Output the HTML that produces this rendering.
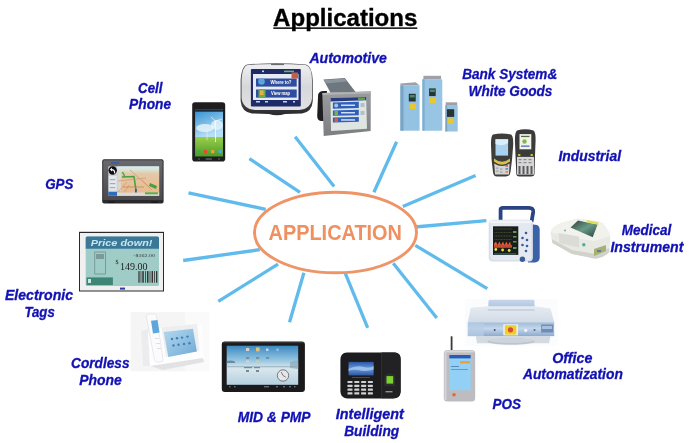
<!DOCTYPE html>
<html><head><meta charset="utf-8">
<style>
html,body{margin:0;padding:0;background:#fff;width:689px;height:443px;overflow:hidden}
svg{display:block;will-change:transform}
text{font-family:"Liberation Sans",sans-serif}
.lb{font-weight:bold;font-style:italic;font-size:13.8px;fill:#1212b4;stroke:#1212b4;stroke-width:0.3px}
</style></head><body>
<svg width="689" height="443" viewBox="0 0 689 443">
<!-- title -->
<text x="273.1" y="25.8" font-size="23.2" font-weight="bold" fill="#000" stroke="#000" stroke-width="0.35" textLength="144.2" lengthAdjust="spacingAndGlyphs">Applications</text>
<rect x="273.3" y="27.4" width="144" height="1.45" fill="#000"/>
<!-- rays -->
<g stroke="#60bbec" stroke-width="3.3" stroke-linecap="butt">
<line x1="188.5" y1="192.8" x2="265.7" y2="209.3"/>
<line x1="249.4" y1="158.7" x2="300" y2="192.3"/>
<line x1="295.1" y1="136.8" x2="334.1" y2="186.6"/>
<line x1="396.6" y1="141.7" x2="373.9" y2="192.3"/>
<line x1="475.6" y1="175.5" x2="402.8" y2="206.4"/>
<line x1="486.4" y1="220.7" x2="414.7" y2="227"/>
<line x1="415.3" y1="245.3" x2="487.3" y2="288.6"/>
<line x1="393.2" y1="263.3" x2="436.8" y2="318"/>
<line x1="183.2" y1="260.5" x2="259.8" y2="249.7"/>
<line x1="218.3" y1="301.4" x2="278" y2="264.1"/>
<line x1="289.5" y1="322.2" x2="303.9" y2="272.7"/>
<line x1="367.7" y1="327.9" x2="345.4" y2="273.6"/>
</g>
<ellipse cx="335.5" cy="232.5" rx="81" ry="40.3" fill="#fff" stroke="#ef9466" stroke-width="3"/>
<text x="268.5" y="240.2" font-size="21.5" fill="#ef9060" font-weight="bold" textLength="133.5" lengthAdjust="spacingAndGlyphs">APPLICATION</text>

<!-- ===== Garmin GPS (automotive left) ===== -->
<g id="garmin">
<defs>
<linearGradient id="gSilver" x1="0" y1="0" x2="0" y2="1">
<stop offset="0" stop-color="#f0f0f2"/><stop offset="0.5" stop-color="#d6d7da"/><stop offset="1" stop-color="#e2e2e4"/></linearGradient>
<linearGradient id="gRim" x1="0" y1="0" x2="0" y2="1">
<stop offset="0" stop-color="#5a5a5e"/><stop offset="0.7" stop-color="#45454a"/><stop offset="1" stop-color="#2a2a2e"/></linearGradient>
</defs>
<path d="M247 64.5 Q276 62 306 64.5 Q312 66 312.8 80 L312.8 101 Q312 112 302 113.5 L285 114 Q277 116.5 269 114 L252 113.5 Q241.5 112 240.6 101 L240.6 80 Q241.5 66 247 64.5 Z" fill="url(#gRim)"/>
<path d="M247.5 65 Q276 63 305.5 65 Q311.8 66.5 312 80 L312 98 Q311.2 109 299 110 L255 110 Q242.8 109 241.6 98 L241.6 80 Q242.2 66.5 247.5 65 Z" fill="url(#gSilver)"/>
<rect x="271" y="63.8" width="13" height="1.3" fill="#6a6a70"/>
<rect x="250.9" y="69" width="49.9" height="37.4" rx="0.8" fill="#1f2b66"/>
<rect x="253" y="74" width="45.5" height="26" fill="#e6eaf3"/>
<rect x="262" y="70.5" width="2" height="1.6" fill="#c8d0f0"/>
<rect x="284" y="70.6" width="10" height="1.6" fill="#6ab070"/>
<rect x="256" y="78.5" width="40.7" height="8.1" fill="#2e4d9e"/>
<rect x="256" y="89.5" width="40.7" height="8.1" fill="#2e4d9e"/>
<rect x="291.5" y="72.5" width="6.5" height="6" fill="#c06048"/>
<circle cx="261.5" cy="81.5" r="3.3" fill="#5aa6dc"/>
<rect x="258.5" y="89" width="7" height="8" fill="#6aae4a"/>
<rect x="260" y="90.5" width="3.5" height="4.5" fill="#e8b048"/>
<text x="270.5" y="84.3" font-size="4.8" fill="#fff" font-weight="bold" textLength="21" lengthAdjust="spacingAndGlyphs">Where to?</text>
<text x="271" y="95.3" font-size="4.8" fill="#fff" font-weight="bold" textLength="19" lengthAdjust="spacingAndGlyphs">View map</text>
<rect x="256" y="101" width="4" height="1.5" fill="#c8d0f0"/><rect x="265" y="101" width="3" height="1.5" fill="#c8d0f0"/><rect x="283" y="101" width="4" height="1.5" fill="#c8d0f0"/><rect x="293" y="101" width="2" height="1.5" fill="#c8d0f0"/>
</g>
<!-- ===== second automotive device ===== -->
<g id="auto2">
<defs>
<linearGradient id="a2bez" x1="0" y1="0" x2="0" y2="1">
<stop offset="0" stop-color="#9a9ca0"/><stop offset="1" stop-color="#7c7e82"/></linearGradient>
</defs>
<polygon points="323.4,79.5 344.8,77.9 356,92.5 330.5,92.8" fill="#6e767e"/>
<polygon points="323.6,80 344.5,78.4 346.5,81.5 326,83.5" fill="#8c949c"/>
<path d="M318 97 Q317.5 91.5 323 91 L327 91 L326 121 L321 121 Q317.2 120.5 317.2 116 Z" fill="#1e1e20"/>
<polygon points="322.3,92.9 370.8,91.3 370.7,131 323.7,136.1" fill="url(#a2bez)"/>
<polygon points="322.5,93 370.6,91.5 370.6,93.5 322.6,95" fill="#b0b2b6"/>
<polygon points="330.5,98.1 366.1,96.9 367,128.7 331,130.9" fill="#dfe5e0"/>
<polygon points="330.5,98.1 366.1,96.9 366.2,100.3 330.6,101.5" fill="#2a3c7c"/>
<rect x="358" y="97.5" width="7" height="2.5" fill="#58a050"/>
<polygon points="332.9,102.5 358.8,101.8 358.8,108 332.9,108.7" fill="#2f5fb8"/>
<polygon points="332.9,110.4 358.8,109.8 358.8,115.2 332.9,115.8" fill="#2f5fb8"/>
<polygon points="332.9,117.6 358.8,117 358.8,121.8 332.9,122.6" fill="#2f5fb8"/>
<circle cx="336.2" cy="105.4" r="2" fill="#9ac8e8"/>
<rect x="334.5" y="111" width="3.5" height="4" fill="#78b050"/>
<rect x="334.5" y="118.3" width="3.5" height="3.8" fill="#d86040"/>
<rect x="341" y="104.5" width="14" height="1.5" fill="#cfe0ff"/>
<rect x="341" y="112" width="14" height="1.5" fill="#cfe0ff"/>
<rect x="341" y="119.2" width="14" height="1.5" fill="#cfe0ff"/>
<rect x="360.5" y="103" width="4" height="4" fill="#b0c0c8"/>
<rect x="360.5" y="111" width="4" height="4" fill="#b0c0c8"/>
</g>
<!-- ===== bank cabinets ===== -->
<g id="bank">
<polygon points="400.4,83.5 415.7,82.3 419.6,85.4 400.4,85.6" fill="#9ea2a8"/>
<rect x="400.4" y="85.4" width="19.2" height="45.3" fill="#94c2e2"/>
<rect x="400.4" y="85.4" width="3.1" height="45.3" fill="#7aa4c4"/>
<rect x="408.8" y="93.8" width="6.9" height="7.7" fill="#263634"/>
<rect x="409.8" y="95" width="4.9" height="2.5" fill="#4a8a6a"/>
<rect x="409.6" y="103.8" width="6.1" height="5.4" fill="#e8c830"/>
<rect x="423.4" y="75.8" width="17.7" height="3.6" fill="#9ea2a8"/>
<rect x="422.4" y="79.2" width="19.9" height="51.5" rx="1" fill="#98c5e4"/>
<rect x="422.4" y="79.2" width="2.2" height="51.5" fill="#80acd0"/>
<rect x="429.1" y="88.4" width="6.6" height="7.7" fill="#263634"/>
<rect x="430" y="89.5" width="4.8" height="2.5" fill="#4a8a6a"/>
<rect x="429.1" y="97.7" width="6.6" height="5.3" fill="#e8c830"/>
<rect x="445.7" y="102.3" width="11.5" height="3.4" fill="#9ea2a8"/>
<rect x="445.4" y="105.3" width="12.3" height="26.2" fill="#96c3e2"/>
<rect x="445.4" y="105.3" width="1.8" height="26.2" fill="#7aa4c4"/>
<rect x="447" y="109.2" width="7.2" height="7.7" fill="#263634"/>
<rect x="447.6" y="118.4" width="6.2" height="5.4" fill="#e8c830"/>
</g>
<!-- ===== cell phone ===== -->
<g id="cell">
<defs>
<linearGradient id="sky" x1="0" y1="0" x2="0.4" y2="1">
<stop offset="0" stop-color="#2f8ed2"/><stop offset="1" stop-color="#b8e0f4"/></linearGradient>
<linearGradient id="grass" x1="0" y1="0" x2="0" y2="1">
<stop offset="0" stop-color="#9ad04a"/><stop offset="1" stop-color="#4e9a2a"/></linearGradient>
</defs>
<rect x="192.2" y="102.2" width="33" height="59.4" rx="2.8" fill="#1e1e20"/>
<rect x="195.1" y="109.5" width="27.9" height="27.5" fill="url(#sky)"/>
<rect x="195.1" y="137" width="27.9" height="19.5" fill="url(#grass)"/>
<rect x="195.1" y="109.5" width="27.9" height="2.2" fill="#1a2a3a"/>
<ellipse cx="205" cy="128" rx="9" ry="4" fill="#e4f2fa" opacity="0.85"/>
<ellipse cx="217" cy="125" rx="6" ry="5" fill="#eef8fc" opacity="0.7"/>
<line x1="215.5" y1="121" x2="215.5" y2="142" stroke="#f4f8f8" stroke-width="0.9"/>
<path d="M215.5 121 L222 119 M215.5 121 L211 117 M215.5 121 L214 127" stroke="#fff" stroke-width="0.6"/>
<line x1="207" y1="130" x2="207" y2="140" stroke="#f0f4f4" stroke-width="0.6"/>
<rect x="197.2" y="149.9" width="3.2" height="3.4" rx="0.8" fill="#38b048"/>
<rect x="203.8" y="149.9" width="3.2" height="3.4" rx="0.8" fill="#e84a28"/>
<rect x="211.1" y="149.9" width="3.2" height="3.4" rx="0.8" fill="#f4a030"/>
<rect x="218.5" y="149.9" width="3.2" height="3.4" rx="0.8" fill="#48a8e8"/>
<rect x="205.5" y="158" width="6.5" height="2" rx="0.8" fill="#505054"/>
<rect x="198" y="158.5" width="2" height="1" fill="#666"/><rect x="218" y="158.5" width="2" height="1" fill="#666"/>
</g>
<!-- ===== industrial handhelds ===== -->
<g id="industrial">
<path d="M493 134.5 Q502 132.5 511 134.5 Q513.5 136 513.2 145 L512 160 L510.5 172 Q510 176.5 506 176.5 L497 176.5 Q493.5 176.5 493 172 L491.6 160 L491 145 Q490.8 136 493 134.5 Z" fill="#3d3d3b"/>
<rect x="495.5" y="139.2" width="12.6" height="16.4" fill="#a8d2f0"/>
<path d="M495.5 139.2 H508.1 V143 Q502 147 495.5 144 Z" fill="#d8eefa"/>
<path d="M494 158.5 Q502 165 510 158.5 L510 161.5 Q502 168 494 161.5 Z" fill="#d8c048"/>
<path d="M494.2 163.5 Q502 168.5 509.6 163.5 L509 174.6 L495 174.6 Z" fill="#d4d4d4"/>
<g fill="#a0a0a4"><rect x="496" y="167.5" width="2.5" height="1.2"/><rect x="500" y="168.5" width="2.5" height="1.2"/><rect x="496" y="170.5" width="2.5" height="1.2"/><rect x="500" y="171.5" width="2.5" height="1.2"/></g>
<rect x="505.5" y="165" width="2.5" height="1.8" fill="#d86060"/>
<rect x="505.5" y="168" width="2.5" height="1.8" fill="#6a8ac8"/>
<rect x="505.5" y="171" width="2.5" height="1.8" fill="#e08a50"/>
<path d="M517 130.5 Q525 128 533.5 130.5 Q535.8 132 535.6 140 L535 156 L534.5 174 Q534.3 176.5 531 176.5 L519.5 176.5 Q516.5 176.5 516.3 174 L515.5 156 L514.9 140 Q514.9 132 517 130.5 Z" fill="#3b3b3b"/>
<rect x="519.5" y="134.1" width="11.8" height="15.2" fill="#f2f4ec"/>
<rect x="521" y="135.8" width="8.5" height="1.3" fill="#5a6a40"/>
<circle cx="524.5" cy="141.5" r="2.2" fill="#8ab848"/>
<rect x="521" y="145.5" width="8.5" height="1.3" fill="#4a72b0"/>
<rect x="518" y="154" width="2.5" height="2" rx="0.8" fill="#d8c030"/><rect x="530.5" y="154" width="2.5" height="2" rx="0.8" fill="#d8c030"/>
<rect x="517" y="156.9" width="17" height="17.7" fill="#d6d6d6"/>
<g fill="#8a8a8e"><rect x="518.5" y="159" width="3" height="1.2"/><rect x="523.5" y="159" width="3" height="1.2"/><rect x="528.5" y="159" width="3" height="1.2"/><rect x="518.5" y="162" width="3" height="1.2"/><rect x="523.5" y="162" width="3" height="1.2"/><rect x="528.5" y="162" width="3" height="1.2"/></g>
<g fill="#5a5a5e">
<rect x="518.5" y="166" width="2" height="8"/><rect x="522.5" y="166" width="2" height="8"/><rect x="526.5" y="166" width="2" height="8"/><rect x="530.5" y="166" width="2" height="8"/>
</g>
</g>
<!-- ===== portable GPS ===== -->
<g id="gps">
<defs>
<linearGradient id="map" x1="0" y1="0" x2="0" y2="1">
<stop offset="0" stop-color="#d6ecf2"/><stop offset="0.1" stop-color="#d8e6d8"/><stop offset="0.25" stop-color="#e4c8a8"/><stop offset="1" stop-color="#ecb888"/></linearGradient>
<linearGradient id="gpsBody" x1="0" y1="0" x2="0" y2="1">
<stop offset="0" stop-color="#6a6a6e"/><stop offset="1" stop-color="#4a4a4e"/></linearGradient>
</defs>
<rect x="102.2" y="159.2" width="61.4" height="44.2" rx="2" fill="#2a2a2c"/>
<rect x="103.2" y="160.2" width="59.4" height="39.8" rx="1" fill="url(#gpsBody)"/>
<rect x="111" y="162.3" width="8.3" height="1.3" fill="#2a5ab0"/>
<rect x="108.3" y="166.4" width="50.8" height="29.3" fill="#d0d4d8"/>
<rect x="117.1" y="166.4" width="42" height="29.3" fill="url(#map)"/>
<circle cx="112.7" cy="170.5" r="4.2" fill="#0e0e10"/>
<path d="M114.8 173.5 Q114.8 169.6 111.5 169.6" stroke="#fff" stroke-width="1.1" fill="none"/>
<path d="M109.8 169.6 L112 167.8 L112 171.4 Z" fill="#fff"/>
<rect x="108.8" y="176" width="7.8" height="14.5" fill="#e4e8ec"/>
<rect x="109.8" y="179" width="5.5" height="1.2" fill="#9ab0c8"/><rect x="109.8" y="183" width="5.5" height="1.2" fill="#9ab0c8"/><rect x="109.8" y="187" width="5.5" height="1.2" fill="#9ab0c8"/>
<rect x="108.3" y="191.8" width="8.8" height="3.9" fill="#2a6cc0"/>
<rect x="117.5" y="170" width="3.5" height="21" fill="#d8dcd8" opacity="0.8"/>
<path d="M122 177 L134 176.5 L136 190.5" stroke="#48a040" stroke-width="1.6" fill="none" stroke-linejoin="round"/>
<path d="M122.5 172 L125 177" stroke="#48a040" stroke-width="1.4" fill="none"/>
<path d="M118 192 L127 182 M124 193 L129 185 M142 180 L152 190 M130 170 L150 188 M118 181 L146 178" stroke="#c89a70" stroke-width="0.7" fill="none"/>
<path d="M123 187 L144 187" stroke="#a08060" stroke-width="0.6" fill="none"/>
<path d="M150 183 L157 186 L156 189 L149 186 Z" fill="#48a040"/>
<rect x="135" y="189" width="1.8" height="4" fill="#2a5ab0"/>
<rect x="117.1" y="192.5" width="42" height="3.2" fill="#d8dcd4"/>
<rect x="145" y="192.3" width="13" height="2" fill="#58b048"/>
<rect x="108" y="201.5" width="7" height="1.5" fill="#1a1a1c"/>
<rect x="151" y="201.5" width="7" height="1.5" fill="#1a1a1c"/>
</g>
<!-- ===== medical monitor ===== -->
<g id="medmon">
<path d="M500.6 222 L500.6 209.5 Q500.6 207.8 503 207.8 L529 207.8 Q533.5 208 533.2 212 L531.5 222" stroke="#2a4482" stroke-width="3.8" fill="none"/>
<path d="M528 223.7 L537 225 Q539.7 226 539.7 230 L539.7 258 Q539 262.4 535 262.4 L528 262.4 Z" fill="#3a62a8"/>
<rect x="488.7" y="219.8" width="44.2" height="41.6" rx="4" fill="#d8dde8"/><rect x="490.2" y="221.3" width="41.2" height="38.6" rx="3" fill="#e4e8f0"/>
<rect x="489.5" y="220.5" width="42.5" height="2.5" fill="#f2f4f8"/>
<rect x="493" y="226.3" width="25.3" height="28.6" fill="#1a1e1a"/>
<g stroke-width="0.5" fill="none" stroke-dasharray="1 0.6">
<path d="M494.5 229 H512" stroke="#7a8a50"/>
<path d="M494.5 232.5 H512" stroke="#6a7a48"/>
<path d="M494.5 236 H512" stroke="#7a8a50"/>
<path d="M494.5 239.5 H512" stroke="#6a7a48"/>
</g>
<path d="M494 247.5 L494 243.5 L496 241.5 L497.5 245 L499.5 241.5 L501 245 L503 241.5 L504.5 245 L506.5 241.5 L508 245 L510 241.5 L511.5 247.5 Z" fill="#e05a3a"/>
<rect x="494" y="245" width="18" height="2.5" fill="#c84a30"/>
<circle cx="495.8" cy="249.5" r="1.4" fill="#e8e040"/>
<circle cx="502.6" cy="250" r="1.4" fill="#e8e040"/>
<circle cx="509.2" cy="250.5" r="1.4" fill="#e8e040"/>
<g fill="#5a9a5a"><rect x="513" y="231" width="3.5" height="2"/><rect x="513" y="236" width="3.5" height="1.5"/><rect x="513" y="241" width="3.5" height="1.5"/><rect x="513" y="247" width="3.5" height="2"/></g>
<rect x="494" y="253.5" width="22" height="0.8" fill="#3a8a8a"/>
<g fill="#3a5a98">
<circle cx="526" cy="233" r="1.3"/><circle cx="522.5" cy="238" r="1.3"/><circle cx="527" cy="240" r="1.3"/>
<circle cx="522.5" cy="245" r="1.3"/><circle cx="527" cy="246" r="1.3"/><circle cx="526" cy="251" r="1.3"/>
<circle cx="522.4" cy="259.3" r="2.7"/>
</g>
</g>
<!-- ===== ECG machine ===== -->
<g id="ecg">
<defs>
<linearGradient id="ecgScr" x1="0" y1="0" x2="1" y2="1">
<stop offset="0" stop-color="#2c3e38"/><stop offset="0.5" stop-color="#6a9a88"/><stop offset="1" stop-color="#2a4440"/></linearGradient>
</defs>
<path d="M550.5 232.3 Q552 226 562.3 222.5 L578 218.6 L599.5 221.6 Q606 224 610.3 236.2 L609.3 252 Q605 257 595.6 258.8 L572 253.9 L552.5 243.1 Z" fill="#e9e9e3"/>
<path d="M550.5 232.3 Q552 226 562.3 222.5 L578 218.6 L599.5 221.6 Q606 224 610.3 236.2 L594 241 L570 237 Z" fill="#f2f2ec"/>
<path d="M552.5 243.1 L572 253.9 L595.6 258.8 Q605 257 609.3 252 L609.3 248 L595 254 L572 250 L551.5 239 Z" fill="#d2d2cc"/>
<polygon points="558.5,233 579,236.5 579,247.5 559.5,243" fill="#dcdcd6"/>
<polygon points="570.5,227.4 578,220.6 597.6,224.5 592.7,237.2" fill="url(#ecgScr)"/>
<polygon points="585.8,219.8 597.6,222 599,224.8 588,222.8" fill="#dede58"/>
<circle cx="583.8" cy="244.7" r="1.7" fill="#48b0a0"/>
<polygon points="594,249 606,245 606,251 594,256" fill="#a8b070"/>
<rect x="597" y="250" width="4" height="2" fill="#5a7ab0"/>
<circle cx="565" cy="230.5" r="0.9" fill="#6ab0a0"/>
</g>
<!-- ===== electronic tag ===== -->
<g id="etag">
<rect x="79" y="231.8" width="85" height="59.7" fill="#2a2a2c"/>
<rect x="80" y="233" width="83" height="57.5" fill="#f0f0f0"/>
<rect x="85.7" y="236.5" width="73.3" height="49.5" rx="1.5" fill="#a0ccc8"/>
<path d="M85.7 238 Q85.7 236.5 87.2 236.5 L157.5 236.5 Q159 236.5 159 238 L159 248.7 L85.7 248.7 Z" fill="#3b7898"/>
<text x="90.8" y="246" style="font-family:'Liberation Sans',sans-serif;font-style:italic;font-weight:bold" font-size="9.5" fill="#c4e8ec" textLength="61.6" lengthAdjust="spacingAndGlyphs">Price down!</text>
<text x="133.5" y="257" style="font-family:'Liberation Serif',serif" font-size="5" fill="#333" textLength="21.4" lengthAdjust="spacingAndGlyphs">-$162.00</text>
<text x="115.4" y="264" style="font-family:'Liberation Serif',serif" font-size="6" fill="#222">$</text><text x="120" y="269.5" style="font-family:'Liberation Serif',serif" font-size="10" fill="#222" textLength="27.5" lengthAdjust="spacingAndGlyphs">149.00</text>
<g fill="#333">
<rect x="138.4" y="271.1" width="1.2" height="11.6"/><rect x="140.6" y="271.1" width="0.7" height="11.6"/><rect x="142.3" y="271.1" width="1.5" height="11.6"/><rect x="145" y="271.1" width="0.8" height="11.6"/><rect x="147" y="271.1" width="1.5" height="11.6"/><rect x="149.6" y="271.1" width="0.8" height="11.6"/><rect x="151.6" y="271.1" width="1.4" height="11.6"/><rect x="154" y="271.1" width="0.8" height="11.6"/><rect x="156" y="271.1" width="1.3" height="11.6"/>
</g>
<rect x="94.8" y="252" width="10.7" height="22" fill="none" stroke="#5a7a7c" stroke-width="0.6"/>
<rect x="96" y="254" width="8" height="5" fill="#7a9a9c"/>
<rect x="86.5" y="277.4" width="26.4" height="7.7" fill="#3d8676"/>
<rect x="88" y="279" width="3" height="4" fill="#c8e8e0"/>
<rect x="120" y="287.6" width="5" height="2" fill="#2a3aa0"/>
</g>
<!-- ===== cordless phone ===== -->
<g id="cordless">
<defs>
<linearGradient id="cScr" x1="0" y1="0" x2="1" y2="1">
<stop offset="0" stop-color="#b4d8ee"/><stop offset="1" stop-color="#6faad6"/></linearGradient>
</defs>
<rect x="130.5" y="312.1" width="78.2" height="59.2" fill="#f5f5f6"/>
<rect x="185" y="312.1" width="23.7" height="59.2" fill="#fafafa"/>
<polygon points="141,331 148,329 150,366 143,366" fill="#ececee"/>
<polygon points="148,333 162,328 202,325 204,360 163,368 150,366" fill="#fdfdfd"/>
<polygon points="161.5,327.5 197,324 199.5,350.5 166,357" fill="#eceef0"/>
<polygon points="163.7,331.9 192.9,328.7 196.9,351.6 168.4,357.1" fill="url(#cScr)"/>
<g fill="#3f7fb8">
<circle cx="172" cy="339" r="1.2"/><circle cx="177" cy="338.2" r="1.2"/><circle cx="182" cy="337.6" r="1.2"/><circle cx="187.5" cy="336.6" r="1.2"/>
<circle cx="173.5" cy="345.5" r="1.2"/><circle cx="178.5" cy="344.8" r="1.2"/><circle cx="184" cy="344" r="1.2"/><circle cx="189.5" cy="343.2" r="1.2"/>
</g>
<polygon points="150,366 203,358 204,362 163,370" fill="#e2e2e4"/>
<path d="M146.3 316 Q146.5 314 150 314 L154 314 Q156 314 156.5 316 L163 359 Q163 362 160 362 L157 362 Q155 362 154.5 360 Z" fill="#fbfbfc" stroke="#d6d6da" stroke-width="0.5"/>
<polygon points="151,320.8 157.5,320 159.5,332.6 153,333.5" fill="#5ea6dc"/>
<g fill="#e0e0e4"><rect x="155" y="338" width="4" height="1"/><rect x="156" y="343" width="4" height="1"/><rect x="157" y="348" width="4" height="1"/></g>
</g>
<!-- ===== MID tablet ===== -->
<g id="mid">
<defs>
<linearGradient id="midScr" x1="0" y1="0" x2="0" y2="1">
<stop offset="0" stop-color="#3a88c0"/><stop offset="0.4" stop-color="#9ccae2"/><stop offset="0.5" stop-color="#c6dce6"/><stop offset="0.6" stop-color="#d8e6ec"/><stop offset="1" stop-color="#b4d0e0"/></linearGradient>
</defs>
<rect x="221.8" y="341.4" width="83.1" height="50.5" rx="3" fill="#1a1a1c"/>
<rect x="222.6" y="342.2" width="81.5" height="1" fill="#3a3a3e"/>
<rect x="226.7" y="345.7" width="71.5" height="39.1" fill="url(#midScr)"/>
<path d="M226.7 361 Q231 360 235 361.5 L235 363 L226.7 363 Z" fill="#5a7a90" opacity="0.8"/>
<path d="M290 362 Q295 360 298.2 360.5 L298.2 369 L290 368 Z" fill="#8aa8b8" opacity="0.7"/>
<rect x="226.7" y="366" width="71.5" height="1.2" fill="#8aa4b2" opacity="0.6"/>
<rect x="244" y="367" width="8" height="1.2" fill="#4a6a80" opacity="0.7"/><rect x="254" y="367" width="6" height="1.2" fill="#4a6a80" opacity="0.7"/>
<g opacity="0.9">
<rect x="246" y="348" width="3.2" height="3" fill="#e8d8d0"/><rect x="256" y="347.5" width="3.6" height="3.8" fill="#f0c878"/><rect x="266" y="348.5" width="2.5" height="2.5" fill="#c8e0f0"/><rect x="276.5" y="348.5" width="2" height="2.5" fill="#a8c8e8"/>
<rect x="246" y="357" width="3.2" height="1.8" fill="#6a8aa0"/><rect x="256" y="357" width="3.2" height="1.8" fill="#6a8aa0"/><rect x="266" y="357" width="3.2" height="1.8" fill="#6a8aa0"/>
<rect x="246" y="360.5" width="3.2" height="1.8" fill="#e8d0c8"/><rect x="256" y="360.5" width="3.2" height="1.8" fill="#e8c890"/>
<rect x="246" y="370" width="3" height="2" fill="#6a8090"/><rect x="256" y="370" width="3" height="2" fill="#6a8090"/>
</g>
<circle cx="283" cy="375.5" r="5.7" fill="#e4e6e8" stroke="#6a6a6e" stroke-width="0.9"/>
<path d="M283 375.5 L281.2 372 M283 375.5 L285.8 377.2" stroke="#333" stroke-width="0.6"/>
<g fill="#8a8a90"><rect x="229" y="386.3" width="1.5" height="1"/><rect x="234" y="386.3" width="1.5" height="1"/><rect x="264" y="386.3" width="5" height="1"/><rect x="276" y="386.3" width="2" height="1"/><rect x="283" y="386.3" width="2" height="1"/><rect x="289" y="386.3" width="2" height="1"/><rect x="294" y="386.3" width="1.5" height="1"/></g>
</g>
<!-- ===== fingerprint terminal ===== -->
<g id="fp">
<defs>
<linearGradient id="fpScr" x1="0" y1="0" x2="0" y2="1">
<stop offset="0" stop-color="#2a58a8"/><stop offset="0.5" stop-color="#6a9ad8"/><stop offset="1" stop-color="#2a56a4"/></linearGradient>
</defs>
<path d="M347 352.4 L395 352.4 Q400.7 353 400.7 359 L400.7 392 Q400 398.5 393 398.5 L347 398.5 Q340.4 398 340.4 391 L340.4 360 Q340.4 352.4 347 352.4 Z" fill="#1c1c1e"/>
<path d="M381.5 352.6 L395 352.6 Q400.5 353 400.5 359 L400.5 392 Q400 398.3 393 398.3 L381.5 398.3 Z" fill="#222224"/>
<rect x="381" y="353" width="0.8" height="45" fill="#333336"/>
<rect x="348.6" y="361.9" width="25" height="13.5" fill="url(#fpScr)"/>
<path d="M348.6 369 Q356 365 364 367 Q370 368.5 373.6 366 L373.6 369.5 Q366 372 358 370 Q352 369 348.6 371 Z" fill="#a8c8f0" opacity="0.8"/>
<rect x="352" y="377" width="18" height="0.8" fill="#555"/>
<g fill="#d0d0d4">
<rect x="347.5" y="380.9" width="5" height="2.2" rx="0.5"/><rect x="354.3" y="380.9" width="5" height="2.2" rx="0.5"/><rect x="361.1" y="380.9" width="5" height="2.2" rx="0.5"/><rect x="367.9" y="380.9" width="5" height="2.2" rx="0.5"/>
<rect x="347.5" y="384.7" width="5" height="2.2" rx="0.5"/><rect x="354.3" y="384.7" width="5" height="2.2" rx="0.5"/><rect x="361.1" y="384.7" width="5" height="2.2" rx="0.5"/><rect x="367.9" y="384.7" width="5" height="2.2" rx="0.5"/>
<rect x="347.5" y="388.5" width="5" height="2.2" rx="0.5"/><rect x="354.3" y="388.5" width="5" height="2.2" rx="0.5"/><rect x="361.1" y="388.5" width="5" height="2.2" rx="0.5"/><rect x="367.9" y="388.5" width="5" height="2.2" rx="0.5"/>
<rect x="347.5" y="392.3" width="5" height="2.2" rx="0.5"/><rect x="354.3" y="392.3" width="5" height="2.2" rx="0.5"/><rect x="361.1" y="392.3" width="5" height="2.2" rx="0.5"/><rect x="367.9" y="392.3" width="5" height="2.2" rx="0.5"/>
</g>
<path d="M384.5 378 Q384.5 373.5 389.8 373.5 Q395 373.5 395 378 L395 386 L384.5 386 Z" fill="#2e2e30"/>
<rect x="386.5" y="376.1" width="6.7" height="7.5" fill="#7cd232"/>
<rect x="385.5" y="391" width="7" height="1.4" fill="#909094"/>
</g>
<!-- ===== POS ===== -->
<g id="pos">
<rect x="450.7" y="336.3" width="1.8" height="14" fill="#3a3a3c"/>
<rect x="443.8" y="350.1" width="31.4" height="51.3" rx="3.5" fill="#bdbdc1"/><rect x="444.5" y="351" width="2" height="49" fill="#d4d4d8"/>
<rect x="445" y="350.5" width="28.7" height="2" fill="#d8d8dc"/>
<rect x="449.3" y="355" width="21.4" height="35.2" fill="#92d0f6"/>
<rect x="449.3" y="355" width="21.4" height="3.4" fill="#2a5ab8"/>
<rect x="460" y="361" width="10" height="2.4" fill="#e8a040"/>
<rect x="451" y="366" width="8" height="1" fill="#5a8ab8"/>
<rect x="451" y="369" width="17" height="0.8" fill="#5a8ab8"/>
<circle cx="454" cy="394.8" r="1.8" fill="#e06a30"/>
</g>
<!-- ===== printer ===== -->
<g id="printer">
<defs>
<linearGradient id="prBand" x1="0" y1="0" x2="0" y2="1">
<stop offset="0" stop-color="#9fbbdc"/><stop offset="0.45" stop-color="#c4d6ea"/><stop offset="1" stop-color="#8eaad0"/></linearGradient>
<linearGradient id="prTop" x1="0" y1="0" x2="0" y2="1">
<stop offset="0" stop-color="#e6ebf1"/><stop offset="1" stop-color="#d2dbe5"/></linearGradient>
<linearGradient id="prTray" x1="0" y1="0" x2="0" y2="1">
<stop offset="0" stop-color="#c6d6ec"/><stop offset="1" stop-color="#a8bedc"/></linearGradient>
</defs>
<rect x="465" y="299" width="93" height="47" fill="#fbfcfd"/>
<path d="M488 310.5 L488.5 301 Q488.6 299.8 490 299.8 L533 299.8 Q534.4 299.8 534.5 301 L534.6 310.5 Z" fill="url(#prTray)"/>
<polygon points="470.7,307.8 487.8,306.3 534.6,306.3 550.5,308.5 554.2,322.3 467.8,322.3" fill="url(#prTop)"/>
<rect x="487.8" y="309" width="46.8" height="2" fill="#c8d4e2"/>
<rect x="467.8" y="322.3" width="86.4" height="13.8" fill="url(#prBand)"/>
<rect x="467.8" y="322.3" width="16" height="13.8" fill="#b8cde6" opacity="0.7"/>
<rect x="503.3" y="324.3" width="14.6" height="11" fill="#eef2f6"/>
<rect x="504.8" y="325.2" width="11.6" height="9.4" fill="#efcf26"/>
<circle cx="510.5" cy="329.8" r="2.6" fill="#d84a3a"/>
<circle cx="494.7" cy="330" r="1" fill="#4a5060"/>
<circle cx="525.7" cy="330.3" r="1.6" fill="#f4f6fa"/>
<circle cx="534.5" cy="330" r="1" fill="#56607a"/>
<rect x="541.1" y="324.5" width="12.3" height="8" fill="#6f8cb6"/>
<rect x="542" y="326" width="10" height="3" fill="#a8c0e0"/>
<polygon points="475.8,336.1 550.5,336.1 549,343.3 477,343.3" fill="#d3dae2"/>
<ellipse cx="511" cy="341.5" rx="23.6" ry="3.3" fill="#bcc5ce"/>
<ellipse cx="511" cy="340.6" rx="22" ry="2.3" fill="#cdd4dc"/>
</g>

<!-- labels -->
<text class="lb" x="309.4" y="63.3" textLength="77.5" lengthAdjust="spacingAndGlyphs">Automotive</text>
<text class="lb" x="462.2" y="78.8" textLength="95" lengthAdjust="spacingAndGlyphs">Bank System&amp;</text>
<text class="lb" x="468.6" y="95.7" textLength="83.8" lengthAdjust="spacingAndGlyphs">White Goods</text>
<text class="lb" x="138.1" y="92.9" textLength="24.4" lengthAdjust="spacingAndGlyphs">Cell</text>
<text class="lb" x="129.1" y="109.3" textLength="42" lengthAdjust="spacingAndGlyphs">Phone</text>
<text class="lb" x="558.4" y="161" textLength="62.6" lengthAdjust="spacingAndGlyphs">Industrial</text>
<text class="lb" x="45.2" y="189" textLength="28.2" lengthAdjust="spacingAndGlyphs">GPS</text>
<text class="lb" x="621.8" y="235.2" textLength="49.5" lengthAdjust="spacingAndGlyphs">Medical</text>
<text class="lb" x="610.4" y="251.8" textLength="73" lengthAdjust="spacingAndGlyphs">Instrument</text>
<text class="lb" x="4.9" y="300" textLength="68.2" lengthAdjust="spacingAndGlyphs">Electronic</text>
<text class="lb" x="24.4" y="317.1" textLength="30.4" lengthAdjust="spacingAndGlyphs">Tags</text>
<text class="lb" x="71" y="368.2" textLength="58.6" lengthAdjust="spacingAndGlyphs">Cordless</text>
<text class="lb" x="79.2" y="384.5" textLength="42.6" lengthAdjust="spacingAndGlyphs">Phone</text>
<text class="lb" x="237.7" y="421.5" textLength="72.9" lengthAdjust="spacingAndGlyphs">MID &amp; PMP</text>
<text class="lb" x="335.8" y="419" textLength="68" lengthAdjust="spacingAndGlyphs">Intelligent</text>
<text class="lb" x="344.2" y="435.8" textLength="55" lengthAdjust="spacingAndGlyphs">Building</text>
<text class="lb" x="552.2" y="362.9" textLength="40.2" lengthAdjust="spacingAndGlyphs">Office</text>
<text class="lb" x="522.9" y="378.6" textLength="100" lengthAdjust="spacingAndGlyphs">Automatization</text>
<text class="lb" x="492.5" y="409.3" textLength="28.5" lengthAdjust="spacingAndGlyphs">POS</text>
</svg>
</body></html>
